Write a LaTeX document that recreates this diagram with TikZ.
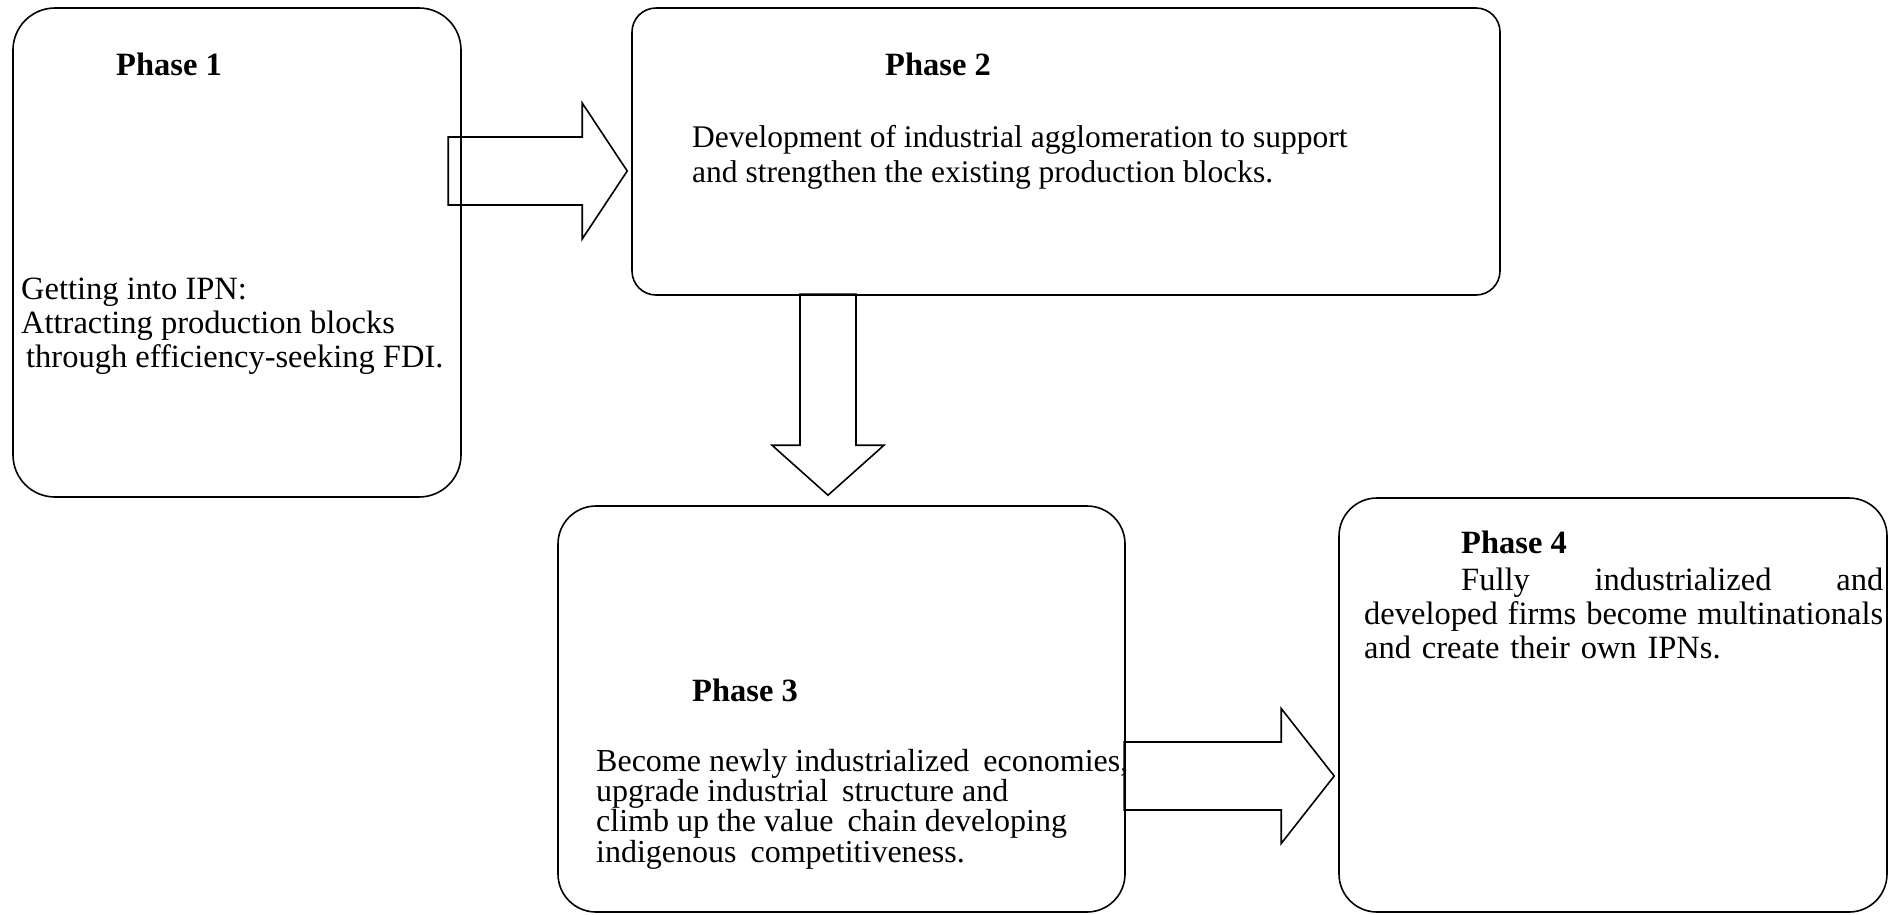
\documentclass[tikz,border=0pt]{standalone}
\usepackage{fontspec}
\setmainfont{Liberation Serif}
\usepackage{tikz}
\usetikzlibrary{positioning}

\tikzset{
    phasebox/.style={draw,line width=1.6pt,rounded corners=#1,inner sep=0pt},
    heading/.style={font=\fontsize{32.5}{36}\selectfont\bfseries,anchor=base west,inner sep=0pt},
    body/.style={font=\fontsize{32.5}{34}\selectfont,anchor=base west,align=left,inner sep=0pt},
    blockarrow/.style={draw,line width=1.6pt,line join=miter}
}
\newcommand{\wsp}{\hspace{14pt}}

\begin{document}
\begin{tikzpicture}[x=1pt,y=-1pt]
    \useasboundingbox (0,0) rectangle (1901,914);
    %Boxes
    \node[phasebox=42pt,minimum width=448pt,minimum height=489pt] (p1) at (237,252.5) {};
    \node[phasebox=24pt,minimum width=868pt,minimum height=287pt] (p2) at (1066,151.5) {};
    \node[phasebox=38pt,minimum width=567pt,minimum height=406pt] (p3) at (841.5,709) {};
    \node[phasebox=38pt,minimum width=548pt,minimum height=414pt] (p4) at (1613,705) {};
    %Texts
    \node[heading] (h1) at (116,75) {Phase 1};
    \node[body] (t1) at (21,367) {Getting into IPN:\\Attracting production blocks\\\hspace{5pt}through efficiency-seeking FDI.};
    \node[heading] (h2) at (885,75) {Phase 2};
    \node[body,font=\fontsize{31.5}{35}\selectfont] (t2) at (692,182) {Development of industrial agglomeration to support\\and strengthen the existing production blocks.};
    \node[heading] (h3) at (692,701) {Phase 3};
    \node[body,font=\fontsize{32}{29}\selectfont] (t3) at (596,862) {Become newly industrialized\wsp economies,\\upgrade industrial\wsp structure and\\climb up the value\wsp chain developing\\indigenous\wsp competitiveness.};
    \node[heading] (h4) at (1461,553) {Phase 4};
    \node[body,text width=519pt] (t4) at (1364,590) {\makebox[519pt][s]{\hspace{97pt}Fully\hfill industrialized\hfill and}\\\makebox[519pt][s]{developed\hfill firms\hfill become\hfill multinationals}\\and create their own IPNs.};
    %Arrows
    \draw[blockarrow] ([xshift=-4pt,yshift=-19.5pt]p2.west) -- ++(-45,-68) -- ++(0,34) -- ++(-134,0)
        -- ++(0,68) -- ++(134,0) -- ++(0,34) -- cycle;
    \draw[blockarrow] ([xshift=-13.5pt,yshift=10pt]p3.north) -- ++(-56,-50) -- ++(28,0) -- ++(0,-151)
        -- ++(56,0) -- ++(0,151) -- ++(28,0) -- cycle;
    \draw[blockarrow] ([xshift=-4pt,yshift=-71pt]p4.west) -- ++(-53,-67.5) -- ++(0,33.5) -- ++(-157,0)
        -- ++(0,68) -- ++(157,0) -- ++(0,33.5) -- cycle;
\end{tikzpicture}
\end{document}
